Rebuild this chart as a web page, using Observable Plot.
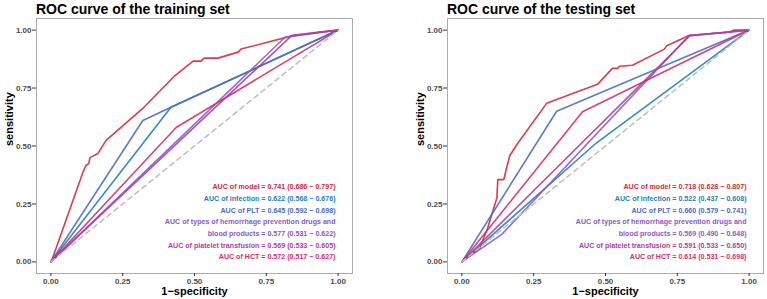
<!DOCTYPE html>
<html>
<head>
<meta charset="utf-8">
<script src="https://cdn.jsdelivr.net/npm/d3@7"></script>
<script src="https://cdn.jsdelivr.net/npm/@observablehq/plot@0.6"></script>
<style>
  html, body { margin: 0; padding: 0; background: #fff; }
  body { width: 767px; height: 299px; position: relative; overflow: hidden; font-family: "Liberation Sans", Arial, sans-serif; }
  .panel { position: absolute; top: 0; }
  .panel h2 { position: absolute; margin: 0; font-size: 14px; line-height: 14px; font-weight: bold; color: #000; white-space: nowrap; top: 1.5px; }
  .panel svg { display: block; }
</style>
</head>
<body>
<div id="train" class="panel" style="left:0px"></div>
<div id="test" class="panel" style="left:411px"></div>
<script>
// Axis ticks
const xTicks = [0, 0.25, 0.5, 0.75, 1];
const yTicks = [0, 0.25, 0.5, 0.75, 1];

// Predictors, in legend order, and their colours
const predictors = ["model", "infection", "PLT", "types of hemorrhage prevention drugs and blood products", "platelet transfusion", "HCT"];
const palette = ["#D62839", "#1F7FB8", "#4A6CC2", "#8A5AC6", "#AC3FA0", "#D42E6C"];

// Training set ROC curves: [1 - specificity, sensitivity]
const trainModel = [[0, 0], [0.005, 0.013], [0.111, 0.385], [0.122, 0.416], [0.132, 0.424], [0.136, 0.45], [0.164, 0.468], [0.192, 0.524], [0.324, 0.667], [0.429, 0.80], [0.495, 0.866], [0.523, 0.866], [0.533, 0.879], [0.582, 0.879], [0.652, 0.905], [0.662, 0.918], [0.836, 0.974], [0.930, 0.991], [1, 1]];
const trainInfection = [[0, 0], [0.418, 0.667], [1, 1]];
const trainPLT = [[0, 0], [0.32, 0.61], [0.418, 0.667], [1, 1]];
const trainTypes = [[0, 0], [0.815, 0.969], [1, 1]];
const trainTransfusion = [[0, 0], [0.84, 0.978], [1, 1]];
const trainHCT = [[0, 0], [0.436, 0.58], [1, 1]];

// Testing set ROC curves
const testModel = [[0, 0], [0.01, 0.013], [0.0625, 0.06], [0.09, 0.147], [0.122, 0.277], [0.125, 0.355], [0.146, 0.355], [0.156, 0.407], [0.167, 0.459], [0.194, 0.511], [0.295, 0.684], [0.472, 0.766], [0.524, 0.835], [0.542, 0.835], [0.549, 0.844], [0.594, 0.848], [0.705, 0.918], [0.712, 0.931], [0.792, 0.978], [0.931, 0.991], [0.948, 1], [1, 1]];
const testInfection = [[0, 0], [0.47, 0.515], [1, 1]];
const testPLT = [[0, 0], [0.33, 0.65], [1, 1]];
const testTypes = [[0, 0], [0.14, 0.12], [0.79, 0.975], [1, 1]];
const testTransfusion = [[0, 0], [0.795, 0.977], [1, 1]];
const testHCT = [[0, 0], [0.42, 0.648], [1, 1]];

// AUC with 95% CI
const trainAuc = [0.741, 0.622, 0.645, 0.577, 0.569, 0.572];
const trainLow = [0.686, 0.568, 0.592, 0.531, 0.533, 0.517];
const trainHigh = [0.797, 0.676, 0.698, 0.622, 0.605, 0.627];
const testAuc = [0.718, 0.522, 0.660, 0.569, 0.591, 0.614];
const testLow = [0.628, 0.437, 0.579, 0.490, 0.533, 0.531];
const testHigh = [0.807, 0.608, 0.741, 0.648, 0.650, 0.698];

const diagonal = [[0, 0], [1, 1]];

function curveTable(curves) {
  return curves.flatMap((pts, i) => pts.map(([fpr, tpr]) => ({name: predictors[i], fpr, tpr})));
}

function legendRows(auc, low, high) {
  const rows = [];
  predictors.forEach((name, i) => {
    const label = `AUC of ${name} = ${auc[i].toFixed(3)} (${low[i].toFixed(3)} \u2212 ${high[i].toFixed(3)})`;
    const cut = label.indexOf(" and ");
    if (cut >= 0) {
      rows.push({text: label.slice(0, cut + 4), color: palette[i]});
      rows.push({text: label.slice(cut + 5), color: palette[i]});
    } else {
      rows.push({text: label, color: palette[i]});
    }
  });
  return rows;
}

function panel(el, title, curves, auc, low, high, width, marginRight) {
  const data = curveTable(curves);
  const rows = legendRows(auc, low, high);
  const n = rows.length;
  const chart = Plot.plot({
    width,
    height: 299,
    marginLeft: 36,
    marginRight,
    marginTop: 18,
    marginBottom: 26,
    style: {fontFamily: "'Liberation Sans', Arial, sans-serif", fontWeight: "bold", background: "#fff"},
    x: {domain: [-0.05, 1.05]},
    y: {domain: [-0.05, 1.05]},
    color: {domain: predictors, range: palette},
    marks: [
      Plot.frame({stroke: "#ababab", strokeWidth: 1}),
      Plot.axisX({ticks: xTicks, tickFormat: (d) => d.toFixed(2), tickSize: 3, tickPadding: 1.5, fontSize: 8, fill: "#4d4d4d", stroke: "#333", label: null}),
      Plot.axisY({ticks: yTicks, tickFormat: (d) => d.toFixed(2), tickSize: 4, tickPadding: 1, fontSize: 8, fill: "#4d4d4d", stroke: "#333", label: null}),
      Plot.line(data, {x: "fpr", y: "tpr", z: "name", stroke: "name", strokeWidth: 1.6, strokeOpacity: 0.9}),
      Plot.line(diagonal, {x: (d) => d[0], y: (d) => d[1], stroke: "#bdbdbd", strokeWidth: 1.5, strokeDasharray: "5,4"}),
      ...rows.map((r, k) => Plot.text([r], {
        text: "text", frameAnchor: "bottom-right", textAnchor: "end", lineAnchor: "middle",
        dx: -17, dy: -(16.3 + (n - 1 - k) * 11.67), fill: r.color, fontSize: 7.1
      })),
      Plot.text(["1\u2212specificity"], {frameAnchor: "bottom", lineAnchor: "middle", dy: 18, fontSize: 11, fill: "#000"}),
      Plot.text(["sensitivity"], {frameAnchor: "left", lineAnchor: "middle", rotate: -90, dx: -27, fontSize: 11, fill: "#000"})
    ]
  });
  const h = document.createElement("h2");
  h.textContent = title;
  h.style.left = "36px";
  el.appendChild(chart);
  el.appendChild(h);
}

panel(document.getElementById("train"), "ROC curve of the training set",
  [trainModel, trainInfection, trainPLT, trainTypes, trainTransfusion, trainHCT],
  trainAuc, trainLow, trainHigh, 383, 31);
panel(document.getElementById("test"), "ROC curve of the testing set",
  [testModel, testInfection, testPLT, testTypes, testTransfusion, testHCT],
  testAuc, testLow, testHigh, 356, 4);
</script>
</body>
</html>
